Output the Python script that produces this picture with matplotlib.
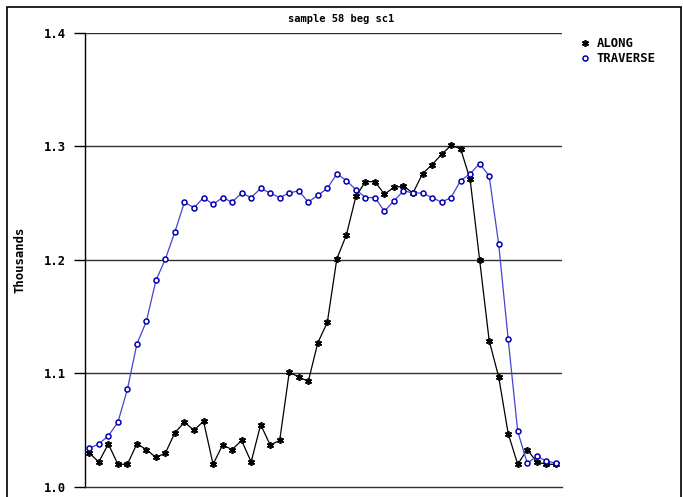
import matplotlib
matplotlib.use("Agg")
import matplotlib.pyplot as plt
from matplotlib.lines import Line2D
from matplotlib.patches import Rectangle

# readings, in thousands
along = [1.030, 1.022, 1.038, 1.020, 1.020, 1.038, 1.033, 1.026, 1.030, 1.048,
         1.057, 1.050, 1.058, 1.020, 1.037, 1.033, 1.041, 1.022, 1.055, 1.037,
         1.041, 1.101, 1.097, 1.093, 1.127, 1.145, 1.201, 1.222, 1.256, 1.269,
         1.269, 1.258, 1.264, 1.265, 1.259, 1.276, 1.284, 1.293, 1.301, 1.298,
         1.271, 1.200, 1.129, 1.097, 1.047, 1.020, 1.033, 1.022, 1.020, 1.020]
traverse = [1.034, 1.038, 1.045, 1.057, 1.086, 1.126, 1.146, 1.182, 1.201, 1.225,
            1.251, 1.246, 1.255, 1.249, 1.255, 1.251, 1.259, 1.255, 1.263, 1.259,
            1.255, 1.259, 1.261, 1.251, 1.257, 1.263, 1.276, 1.270, 1.262, 1.255,
            1.255, 1.243, 1.252, 1.261, 1.259, 1.259, 1.255, 1.251, 1.255, 1.270,
            1.276, 1.285, 1.274, 1.214, 1.130, 1.049, 1.021, 1.027, 1.023, 1.021]
yticks = [1.0, 1.1, 1.2, 1.3, 1.4]
x = list(range(len(along)))

font = {'family': 'DejaVu Sans Mono', 'weight': 'bold', 'size': 8.8}
title_font = dict(font, size=7.5)

fig = plt.figure(figsize=(6.83, 4.97), dpi=100)
ax = fig.add_axes([85/683, 1 - 487/497, (562 - 85)/683, (487 - 33)/497])

ax.plot(x, along, color='black', lw=0.9, marker=(6, 2, 0), ms=5,
        mec='black', mew=1.2)
ax.plot(x, traverse, color='#4444d4', lw=0.9, marker='o', ms=3.6,
        mfc='white', mec='#0000b0', mew=1.1)

ax.set_xlim(-0.45, 49.65)
ax.set_ylim(1.0, 1.4)
ax.set_yticks(yticks)
ax.set_yticklabels([f'{t:.1f}' for t in yticks], fontdict=font)
ax.set_xticks([])
ax.tick_params(axis='y', direction='out', length=8, width=1, pad=6)
for t in yticks[1:]:
    ax.axhline(t, color='#303030', lw=1, zorder=0)
for s in ['top', 'right']:
    ax.spines[s].set_visible(False)
ax.spines['left'].set_linewidth(1)
ax.spines['bottom'].set_linewidth(1)
ax.spines['bottom'].set_color('#303030')

fig.text(0.5, 1 - 19/497, 'sample 58 beg sc1', ha='center', va='center', fontdict=title_font)
fig.text(20/683, 1 - 260/497, 'Thousands', rotation=90, ha='center', va='center', fontdict=font)

handles = [Line2D([], [], color='black', marker=(6, 2, 0), ms=5, mew=1.2, ls='none'),
           Line2D([], [], color='#0000b0', marker='o', ms=3.6, mfc='white', mew=1.1, ls='none')]
fig.legend(handles, ['ALONG', 'TRAVERSE'], loc='upper left',
           bbox_to_anchor=(582/683, 1 - 37/497), frameon=False,
           prop=font, handlelength=0.5, handletextpad=0.7,
           labelspacing=0.15, borderpad=0, borderaxespad=0)

fig.patches.append(Rectangle((7/683, -0.02), 674/683, 1.0 - 7/497 + 0.02,
                             transform=fig.transFigure, fill=False,
                             edgecolor='black', lw=1.2))

fig.savefig('out.png', dpi=100)
